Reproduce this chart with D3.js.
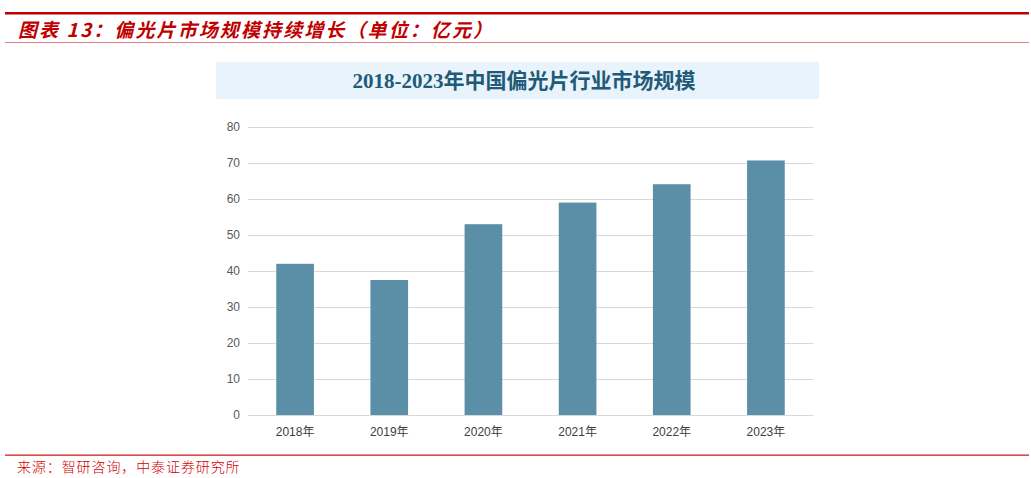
<!DOCTYPE html>
<html><head><meta charset="utf-8">
<script src="https://cdn.jsdelivr.net/npm/d3@7/dist/d3.min.js"></script>
<style>
html,body{margin:0;padding:0;background:#fff;}
svg{display:block;}
</style>
</head><body>
<svg id="c" width="1031" height="478"></svg>
<script>
const categories = ["2018年","2019年","2020年","2021年","2022年","2023年"];
const values = [42, 37.5, 53, 59, 64.1, 70.7];
const yTicks = [0,10,20,30,40,50,60,70,80];
const headerText = "图表 13：偏光片市场规模持续增长（单位：亿元）";
const chartTitle = "2018-2023年中国偏光片行业市场规模";
const sourceText = "来源：智研咨询，中泰证券研究所";

const svg = d3.select("#c");
const W = 1031;

// header lines
svg.append("rect").attr("x",5).attr("y",12).attr("width",W-7).attr("height",2.5).attr("fill","#c00000");
svg.append("text").attr("x",18).attr("y",37)
  .attr("font-family","'Noto Sans CJK SC', sans-serif").attr("font-size",19)
  .attr("font-weight","bold").attr("font-style","italic")
  .attr("letter-spacing",2.1).attr("fill","#c00000").text(headerText);
svg.append("rect").attr("x",5).attr("y",42).attr("width",W-7).attr("height",1).attr("fill","#e08080");

// title box
svg.append("rect").attr("x",216).attr("y",62).attr("width",603).attr("height",37).attr("fill","#e8f3fb");
svg.append("text").attr("x",524).attr("y",88).attr("text-anchor","middle")
  .attr("font-family","'Liberation Serif','DejaVu Serif','Noto Sans CJK SC',serif")
  .attr("font-size",21).attr("font-weight","bold").attr("fill","#215a78").text(chartTitle);

// scales
const x = d3.scaleBand().domain(categories).range([248,813]).paddingInner(0.6).paddingOuter(0.3);
const y = d3.scaleLinear().domain([0,80]).range([415,127]);

// gridlines
const grid = svg.append("g").attr("transform","translate(248,0)")
  .call(d3.axisLeft(y).tickValues(yTicks).tickSize(-(813-248)).tickFormat(""));
grid.select(".domain").remove();
grid.selectAll(".tick line").attr("stroke","#d9d9d9").attr("stroke-width",1);

// y labels
const ya = svg.append("g").attr("transform","translate(240,0)")
  .call(d3.axisLeft(y).tickValues(yTicks).tickSize(0).tickPadding(0));
ya.select(".domain").remove();
ya.selectAll("text").attr("font-family","'Liberation Sans',Arial,sans-serif").attr("font-size",12).attr("fill","#595959");

// bars
svg.append("g").selectAll("rect").data(values).join("rect")
  .attr("x",(d,i)=>x(categories[i]))
  .attr("y",d=>y(d))
  .attr("width",x.bandwidth())
  .attr("height",d=>y(0)-y(d))
  .attr("fill","#5b8fa7");

// x labels
const xa = svg.append("g").attr("transform","translate(0,415)")
  .call(d3.axisBottom(x).tickSize(0).tickPadding(12));
xa.select(".domain").remove();
xa.selectAll("text").attr("font-family","'Liberation Sans','Noto Sans CJK SC',sans-serif").attr("font-size",12).attr("fill","#404040");

// footer
svg.append("rect").attr("x",5).attr("y",454.5).attr("width",W-7).attr("height",1.3).attr("fill","#d42020");
svg.append("text").attr("x",17).attr("y",472)
  .attr("font-family","'Noto Sans CJK SC',sans-serif").attr("font-size",14)
  .attr("font-weight",300).attr("letter-spacing",0.9).attr("fill","#d00000").text(sourceText);
</script>
</body></html>
